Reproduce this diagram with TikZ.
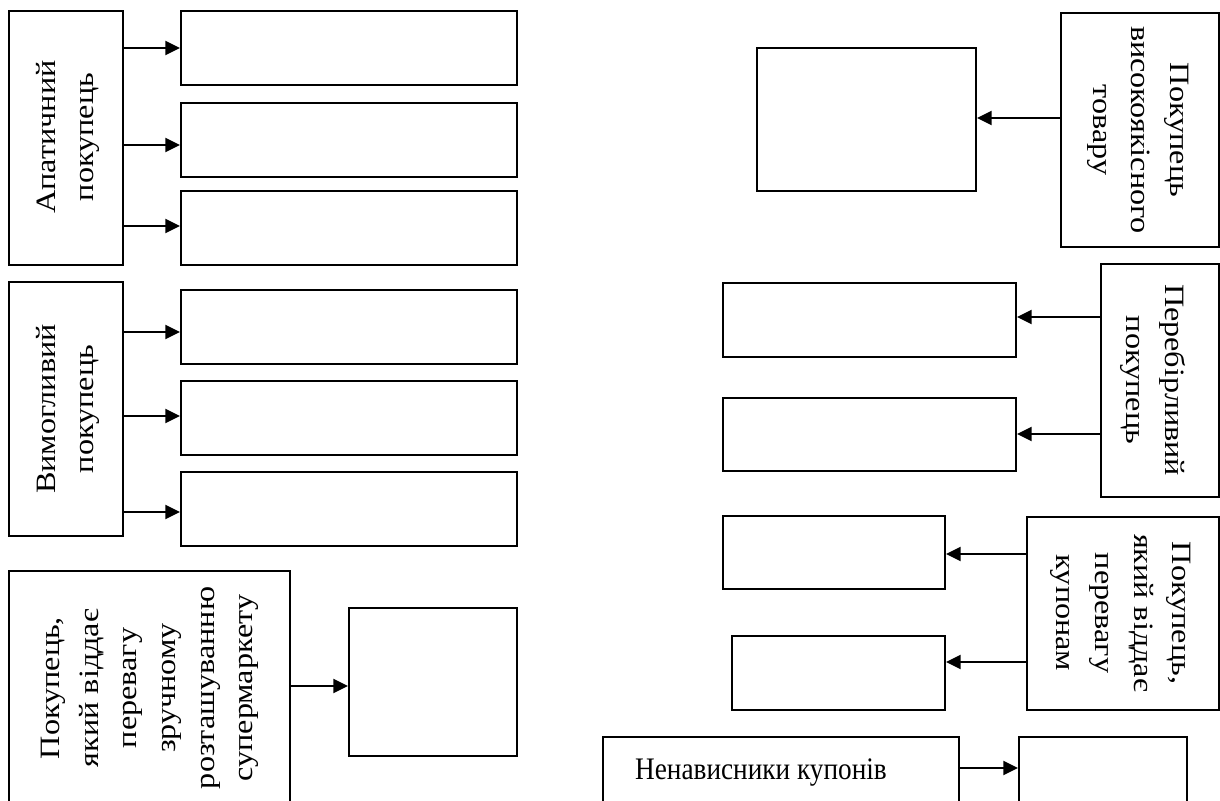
\documentclass[tikz,border=0pt]{standalone}
\usepackage{fontspec}
\setmainfont{Liberation Serif}
% labels set along the long side of the boxes are slightly widened,
% the horizontal label slightly narrowed
\newfontfamily\wideserif[FakeStretch=1.15]{Liberation Serif}
\newfontfamily\narrowserif[FakeStretch=0.87]{Liberation Serif}
\usetikzlibrary{arrows.meta,fit}
\begin{document}
\begin{tikzpicture}[x=0.75pt,y=-0.75pt,
  frame/.style={draw=black, line width=1.5pt, inner sep=0pt},
  lbl/.style={align=center, inner sep=0pt, font=\wideserif\fontsize{21}{29}\selectfont},
  link/.style={draw=black, line width=1.5pt, -{Triangle[length=11pt,width=10.5pt]}},
]
\useasboundingbox (0,0) rectangle (1220,800);

% ---------- left column ----------
\node[frame, fit={(9,11) (123,265)}] (a) {};
\node[frame, fit={(181,11) (517,85)}] (a1) {};
\node[frame, fit={(181,103) (517,177)}] (a2) {};
\node[frame, fit={(181,191) (517,265)}] (a3) {};
\node[lbl, rotate=90] (ta) at (68,137) {Апатичний\\покупець};

\node[frame, fit={(9,282) (123,536)}] (b) {};
\node[frame, fit={(181,290) (517,364)}] (b1) {};
\node[frame, fit={(181,381) (517,455)}] (b2) {};
\node[frame, fit={(181,472) (517,546)}] (b3) {};
\node[lbl, rotate=90] (tb) at (68,409) {Вимогливий\\покупець};

\node[frame, fit={(9,571) (290,806)}] (c) {};
\node[frame, fit={(349,608) (517,756)}] (c1) {};
\node[lbl, rotate=90] (tc) at (150,688) {Покупець,\\який віддає\\перевагу\\зручному\\розташуванню\\супермаркету};

\draw[link] (a.east |- 0,48) -- (a1.west |- 0,48);
\draw[link] (a.east |- 0,145) -- (a2.west |- 0,145);
\draw[link] (a.east |- 0,226) -- (a3.west |- 0,226);
\draw[link] (b.east |- 0,332) -- (b1.west |- 0,332);
\draw[link] (b.east |- 0,416) -- (b2.west |- 0,416);
\draw[link] (b.east |- 0,512) -- (b3.west |- 0,512);
\draw[link] (c.east |- 0,686) -- (c1.west |- 0,686);

% ---------- right column ----------
\node[frame, fit={(1061,13) (1219,247)}] (d) {};
\node[frame, fit={(757,48) (976,191)}] (d1) {};
\node[lbl, rotate=-90] (td) at (1138,130) {Покупець\\високоякісного\\товару};

\node[frame, fit={(1101,264) (1219,497)}] (e) {};
\node[frame, fit={(723,283) (1016,357)}] (e1) {};
\node[frame, fit={(723,398) (1016,471)}] (e2) {};
\node[lbl, rotate=-90] (te) at (1153,380) {Перебірливий\\покупець};

\node[frame, fit={(1027,517) (1219,710)}] (f) {};
\node[frame, fit={(723,516) (945,589)}] (f1) {};
\node[frame, fit={(732,636) (945,710)}] (f2) {};
\node[lbl, rotate=-90] (tf) at (1121,613) {Покупець,\\який віддає\\перевагу\\купонам};

\node[frame, fit={(603,737) (959,807)}] (g) {};
\node[frame, fit={(1019,737) (1187,807)}] (g1) {};
\node[lbl, font=\narrowserif\fontsize{23.5}{27}\selectfont] (tg) at (761,772) {Ненависники купонів};

\draw[link] (d.west |- 0,118) -- (d1.east |- 0,118);
\draw[link] (e.west |- 0,317) -- (e1.east |- 0,317);
\draw[link] (e.west |- 0,434) -- (e2.east |- 0,434);
\draw[link] (f.west |- 0,554) -- (f1.east |- 0,554);
\draw[link] (f.west |- 0,662) -- (f2.east |- 0,662);
\draw[link] (g.east |- 0,768) -- (g1.west |- 0,768);
\end{tikzpicture}
\end{document}
